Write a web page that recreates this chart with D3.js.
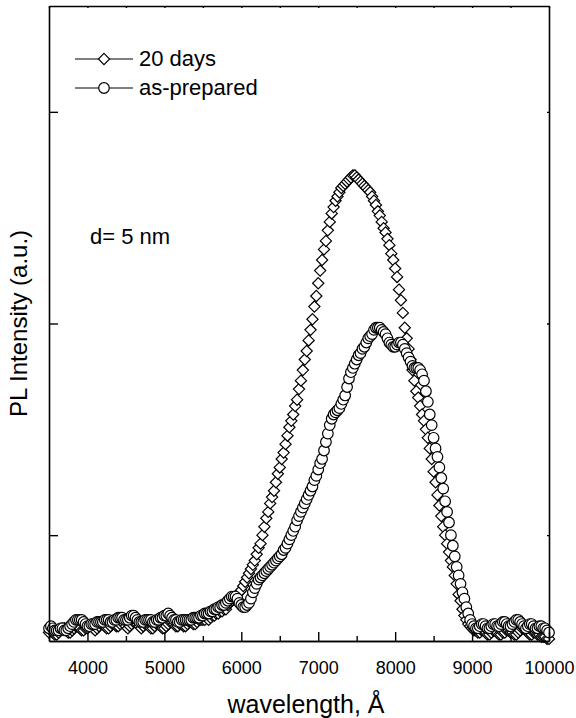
<!DOCTYPE html>
<html>
<head>
<meta charset="utf-8">
<script src="https://cdn.jsdelivr.net/npm/d3@7"></script>
<style>
  body { margin: 0; background: #fff; }
  svg { display: block; font-family: "Liberation Sans", Arial, sans-serif; }
</style>
</head>
<body>
<div class="chart"></div>
<script>
// wavelength grid (Å): 3500 .. 10000, one reading every 25 Å
const waveStart = 3500;
const waveStep = 25;

// PL intensity, arbitrary units, 20 days after preparation
const days20 = [
  4, 5, 4, 3, 3, 4, 5, 6, 6, 5, 4, 4, 5, 6, 7, 7, 6, 5, 5, 6,
  6, 7, 7, 6, 5, 6, 7, 8, 8, 7, 6, 6, 7, 8, 8, 7, 7, 8, 9, 8,
  7, 6, 7, 8, 9, 9, 8, 7, 6, 7, 8, 8, 7, 6, 6, 7, 8, 8, 7, 6,
  6, 7, 8, 9, 9, 8, 7, 7, 8, 8, 7, 7, 8, 9, 9, 8, 8, 9, 10, 10,
  10, 10, 11, 10, 11, 12, 12, 13, 13, 14, 14, 15, 15, 17, 18, 19, 20, 21, 22, 23,
  24, 26, 28, 30, 32, 34, 36, 38, 41, 44, 46, 50, 54, 58, 61, 65, 68, 71, 75, 79,
  82, 86, 89, 93, 97, 101, 104, 107, 111, 114, 119, 123, 128, 133, 137, 142, 147, 152, 158, 163,
  169, 175, 180, 185, 189, 194, 198, 202, 205, 208, 210, 212, 214, 215, 216, 217, 218, 219, 220, 220,
  219, 218, 217, 216, 215, 214, 213, 212, 210, 208, 206, 203, 201, 198, 195, 193, 190, 187, 183, 180,
  176, 172, 166, 161, 155, 148, 143, 138, 133, 128, 123, 118, 115, 111, 107, 104, 100, 96, 91, 86,
  80, 75, 69, 64, 59, 54, 50, 46, 42, 38, 35, 31, 27, 22, 19, 15, 12, 10, 8, 7,
  6, 5, 5, 4, 4, 5, 5, 4, 3, 3, 4, 5, 5, 4, 3, 3, 4, 4, 5, 5,
  4, 4, 3, 3, 4, 5, 6, 6, 5, 4, 3, 3, 4, 4, 3, 3, 2, 2, 2, 1,
  1
];

// PL intensity, arbitrary units, as-prepared film
const asPrepared = [
  6, 7, 6, 5, 5, 5, 6, 6, 5, 5, 6, 7, 8, 9, 10, 10, 10, 10, 9, 8,
  7, 7, 8, 8, 8, 9, 9, 9, 9, 10, 10, 10, 9, 9, 10, 10, 11, 11, 11, 10,
  10, 10, 11, 12, 12, 11, 10, 9, 9, 9, 10, 10, 10, 10, 9, 9, 10, 10, 11, 11,
  12, 12, 13, 12, 11, 10, 10, 9, 9, 10, 10, 10, 10, 10, 10, 11, 11, 11, 11, 12,
  12, 13, 13, 13, 14, 14, 15, 15, 16, 16, 17, 17, 18, 19, 20, 21, 21, 21, 20, 18,
  17, 16, 16, 17, 18, 20, 23, 25, 27, 29, 30, 31, 32, 33, 34, 35, 36, 37, 38, 39,
  40, 41, 43, 44, 46, 48, 50, 52, 54, 57, 59, 61, 63, 65, 67, 69, 71, 73, 76, 78,
  81, 84, 86, 90, 94, 98, 102, 105, 107, 108, 109, 110, 112, 114, 116, 120, 124, 127, 129, 131,
  133, 135, 136, 138, 139, 141, 143, 144, 145, 147, 148, 148, 148, 147, 146, 145, 143, 141, 140, 139,
  139, 140, 141, 141, 140, 138, 136, 134, 132, 130, 129, 129, 129, 128, 126, 123, 118, 113, 107, 102,
  96, 91, 87, 82, 77, 72, 66, 61, 56, 50, 45, 40, 35, 31, 27, 23, 20, 16, 13, 10,
  8, 7, 6, 6, 7, 8, 8, 7, 6, 6, 7, 8, 8, 7, 7, 8, 9, 9, 8, 7,
  7, 8, 9, 10, 10, 9, 8, 7, 6, 7, 8, 8, 7, 6, 6, 7, 7, 6, 6, 5,
  4
];

const xTicks = [4000, 5000, 6000, 7000, 8000, 9000, 10000];
const xMinorTicks = [3500, 4500, 5500, 6500, 7500, 8500, 9500];
const yTicks = [50, 150, 250];

const seriesNames = ["20 days", "as-prepared"];

const toPoints = vals => vals.map((v, i) => ({ w: waveStart + i * waveStep, v: v }));
const series = [
  { name: seriesNames[0], shape: "diamond", values: toPoints(days20) },
  { name: seriesNames[1], shape: "circle", values: toPoints(asPrepared) }
];

const width = 576, height = 718;
const margin = { top: 6, right: 27, bottom: 77, left: 49 };
const innerW = width - margin.left - margin.right;
const innerH = height - margin.top - margin.bottom;

const xScale = d3.scaleLinear().domain([3500, 10000]).range([0, innerW]);
const yScale = d3.scaleLinear().domain([0, 300]).range([innerH, 0]);

const svg = d3.select(".chart").append("svg")
  .attr("width", width)
  .attr("height", height);

const g = svg.append("g")
  .attr("transform", `translate(${margin.left},${margin.top})`);

const diamondR = 5.6;
const circleR = 5.3;
const diamondPath = `M0,${-diamondR}L${diamondR},0L0,${diamondR}L${-diamondR},0Z`;

function drawMarker(sel, shape) {
  if (shape === "diamond") {
    sel.append("path").attr("d", diamondPath);
  } else {
    sel.append("circle").attr("r", circleR);
  }
  sel.selectAll("path, circle")
    .attr("fill", "#fff")
    .attr("stroke", "#000")
    .attr("stroke-width", 1.2);
}

/* markers */
series.forEach(s => {
  const grp = g.append("g").attr("class", "series");
  grp.selectAll("g.pt")
    .data(s.values).enter()
    .append("g")
    .attr("class", "pt")
    .attr("transform", d => `translate(${xScale(d.w)},${yScale(d.v)})`)
    .each(function () { drawMarker(d3.select(this), s.shape); });
});

/* axes, ticks inside */
const bottomAxis = d3.axisBottom(xScale).tickValues(xTicks).tickSize(-9).tickPadding(20)
  .tickFormat(d3.format("d")).tickSizeOuter(0);
const bottomMinor = d3.axisBottom(xScale).tickValues(xMinorTicks).tickSize(-5).tickFormat("").tickSizeOuter(0);
const topAxis = d3.axisTop(xScale).tickValues(xTicks.concat(xMinorTicks)).tickSize(-2).tickFormat("").tickSizeOuter(0);
const leftAxis = d3.axisLeft(yScale).tickValues(yTicks).tickSize(-9).tickFormat("").tickSizeOuter(0);
const rightAxis = d3.axisRight(yScale).tickValues(yTicks).tickSize(-2).tickFormat("").tickSizeOuter(0);

const gx = g.append("g").attr("transform", `translate(0,${innerH})`).call(bottomAxis);
g.append("g").attr("transform", `translate(0,${innerH})`).call(bottomMinor);
g.append("g").call(topAxis);
g.append("g").call(leftAxis);
g.append("g").attr("transform", `translate(${innerW},0)`).call(rightAxis);

g.selectAll(".domain").attr("stroke", "#000").attr("stroke-width", 1.6);
g.selectAll(".tick line").attr("stroke", "#000").attr("stroke-width", 1.4);
gx.selectAll(".tick text")
  .attr("fill", "#000")
  .style("font-size", "18px")
  .style("font-family", "'Liberation Sans', Arial, sans-serif");

/* axis titles */
svg.append("text")
  .attr("x", margin.left + innerW / 2 + 7)
  .attr("y", 713)
  .attr("text-anchor", "middle")
  .style("font-size", "25px")
  .text("wavelength, Å");

svg.append("text")
  .attr("transform", `translate(27,${margin.top + innerH / 2}) rotate(-90)`)
  .attr("text-anchor", "middle")
  .style("font-size", "24px")
  .text("PL Intensity (a.u.)");

/* annotation */
svg.append("text")
  .attr("x", 90)
  .attr("y", 244)
  .style("font-size", "22px")
  .text("d= 5 nm");

/* legend */
const legend = svg.append("g").attr("transform", "translate(75,59)");
const rows = legend.selectAll("g.row")
  .data(series).enter()
  .append("g")
  .attr("class", "row")
  .attr("transform", (d, i) => `translate(0,${i * 29})`);

rows.append("line")
  .attr("x1", 0).attr("x2", 58)
  .attr("y1", 0).attr("y2", 0)
  .attr("stroke", "#000")
  .attr("stroke-width", 1);

rows.append("g")
  .attr("transform", "translate(29,0)")
  .each(function (d) { drawMarker(d3.select(this), d.shape); });

rows.append("text")
  .attr("x", 64)
  .attr("y", 7)
  .style("font-size", "22px")
  .text(d => d.name);
</script>
</body>
</html>
